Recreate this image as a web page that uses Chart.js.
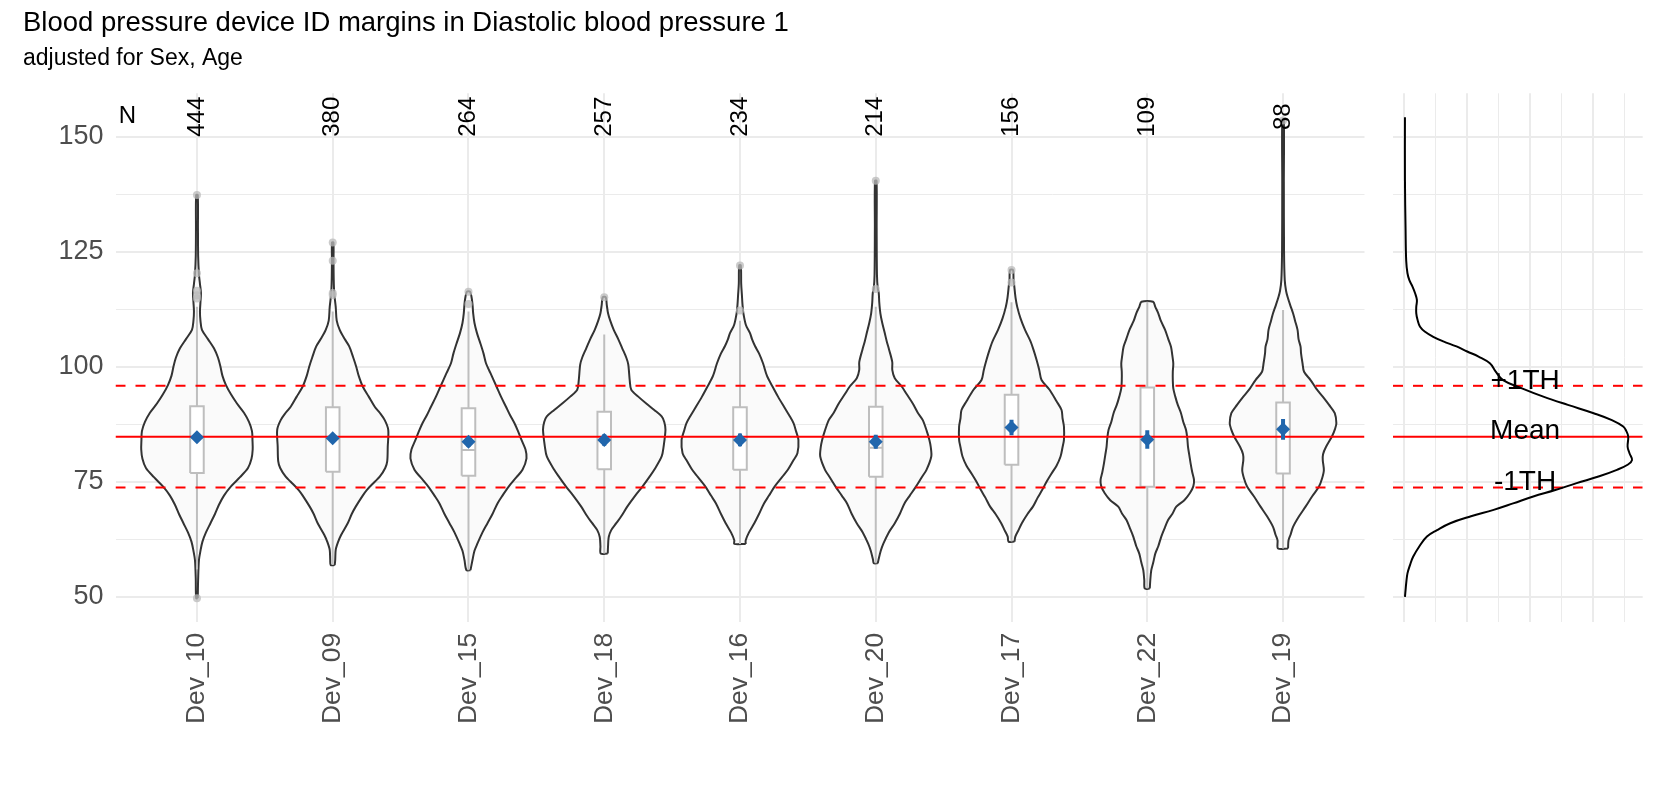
<!DOCTYPE html>
<html><head><meta charset="utf-8">
<script src="https://cdn.jsdelivr.net/npm/chart.js@4.4.1/dist/chart.umd.min.js"></script>
<style>
html,body{margin:0;padding:0;background:#fff;}
#wrap{position:relative;width:1666px;height:785px;overflow:hidden;background:#fff;}
#main{position:absolute;left:0;top:0;width:1666px;height:785px;}
#dens{position:absolute;left:1380px;top:0;width:286px;height:785px;}
</style></head><body>
<div id="wrap"><canvas id="main" width="1666" height="785"></canvas><canvas id="dens" width="286" height="785"></canvas></div>
<script>
// ---------------- DATA ----------------
const devices = ['Dev_10','Dev_09','Dev_15','Dev_18','Dev_16','Dev_20','Dev_17','Dev_22','Dev_19'];
const nCounts = [444,380,264,257,234,214,156,109,88];
const meanVals = [84.65,84.45,83.7,84.1,84.1,83.7,86.8,84.2,86.4];
const ciLow  = [83.75,83.55,82.6,82.85,82.7,82.2,85.1,82.2,84.15];
const ciHigh = [85.55,85.35,84.8,85.35,85.5,85.2,88.5,86.2,88.65];
const q1      = [76.9,77.2,76.3,77.7,77.6,76.1,78.7,73.9,76.8];
const medians = [84.5,84.4,81.9,84.0,84.0,82.4,86.9,84.0,86.5];
const q3      = [91.4,91.2,91.0,90.2,91.2,91.3,93.9,95.5,92.2];
const whiskLow  = [56.0,56.9,55.8,59.4,61.5,57.3,62.0,51.8,60.5];
const whiskHigh = [113.0,112.0,112.0,107.0,110.0,113.0,114.0,114.1,112.3];
const outliers = [[137.3,120.3,116.5,115.5,114.8,49.7],[127.0,123.0,116.0,115.6],[116.3,113.6],[115.1],[122.0,112.2],[140.4,116.9],[121.0,118.3],[],[153.5]];

// violin profiles: [value, relative density]
const vDev10 = [[49.7,0.8],[54,1.2],[58,2],[60,3.5],[62,5.5],[64,9],[66,13.5],[68,18],[70,22],[72,27],[74,34],[76,43],[78,51],[80,54.5],[82,55.7],[84,55.5],[86,55],[88,52],[90,47],[92,40],[94,34],[96,29],[98,25.5],[100,23.5],[102,21],[104,17],[106,11],[108,5],[110,3.5],[112,3],[114,3.5],[116,4],[118,3],[120,2],[124,1.2],[130,1],[137.3,0.8]];
const vDev09 = [[56.9,2],[58,2.5],[60.2,3],[62,5.5],[63.5,8.5],[66,15],[68,19],[69.6,23],[72,30],[73.2,34],[75,42],[76.1,47],[78,52.5],[79.5,54.5],[82.6,55],[86.3,55.5],[88.4,52],[90,47],[91.3,42],[93.5,36],[95.7,30],[98,26],[100,23.5],[102,20.5],[104.4,16.5],[106,12],[108,7],[110,4],[113,3],[116,1.5],[119,1],[123,0.8],[127,0.7]];
const vDev15 = [[55.8,2],[58,4],[60,6],[61.6,9],[64,14],[66,19],[68,24],[70.3,29],[72,34],[73.9,40],[76,48],[77.6,54],[80.1,58],[82,57],[84.1,53],[86,49.5],[87.7,46],[89.5,41.5],[91.3,37.5],[93.5,32.5],[95.7,28],[98.6,22],[100.75,17.5],[102.9,15],[105,12],[107.3,8.5],[109.5,6],[111.6,4.7],[113.6,4],[115.2,3],[116.3,1.5]];
const vDev18 = [[59.4,3.5],[61,3.8],[63,4.5],[64.5,7],[66,12],[67.5,17],[69.6,23],[72,31],[73.9,38],[76,45],[77.6,50],[80.5,57.4],[82.6,59.3],[86.3,61.2],[88,60],[89.2,57.4],[90.6,50],[92,42],[93.5,34],[95,27],[97,25.5],[100.5,24],[102,22],[104,18],[106,14],[108,9.5],[110,6],[111.6,3.8],[113.5,2.5],[115.1,1.5]];
const vDev16 = [[61.5,5.7],[62.3,5.7],[64,9],[66,14.3],[68,19],[70.3,24],[72,29],[73.9,34.4],[76,42],[77.6,47.8],[79.5,53],[81.2,57.4],[84.1,58.4],[86,56],[87.7,53.6],[89.5,49],[91.3,44],[93.5,38],[95.7,32.5],[98,27],[100.75,23],[102.9,19],[104.5,15],[106,12],[107.3,10],[109,6],[111.6,3.4],[113.5,2.5],[115.6,1.9],[118,1.2],[122,0.8]];
const vDev20 = [[57.3,2],[58,2.7],[60,5],[61.6,7.7],[64,13],[66,19],[68,24],[70.3,28.7],[72,34],[73.9,40],[76,46],[77.6,50.7],[80.5,55.5],[82.5,55],[84.1,53.6],[86,51],[88.4,47],[90,42],[92,37],[94,31],[95.7,26],[97.5,19],[99.3,16.5],[101,16.5],[103.65,13.4],[105.5,11],[107.3,9],[109.5,6.5],[111.6,4.6],[114,3.5],[116,3],[117,2],[120,1.2],[130,0.9],[140.4,0.8]];
const vDev17 = [[62,3],[63.1,3.8],[64.5,7],[66,10.3],[68,16],[69.6,21.4],[71.5,26],[73.2,30.6],[75,35],[76.8,40],[78.5,45],[80.5,49],[82.5,51],[84.1,52.4],[87,52.4],[88.8,51],[90.6,50],[92.5,45],[95,38],[97.1,30],[99.3,27.7],[101.5,25],[103.65,22],[105.5,19],[108,13.5],[110.5,9],[113,5.7],[115,4],[117.6,2.7],[119,2],[121,1.5]];
const vDev22 = [[51.8,2.5],[53.6,3],[55.8,4],[57.5,6],[59.4,8],[61,11],[63.1,14],[65,17.5],[66.7,20.8],[68,25],[69.6,29],[71,37],[72.5,42.5],[74,46],[75.4,46.7],[77,45],[79,43.3],[80.8,42],[82.6,40.7],[84.4,40],[86.2,38.8],[88,36],[89.9,33.7],[91.7,30.5],[93.5,28],[95.3,26],[97.1,25.5],[98.9,25.5],[100.7,26],[102.5,25],[104.35,23.7],[106,21],[108,17.8],[110,13.5],[111.6,11],[113,8],[114.1,5.8]];
const vDev19 = [[60.5,5],[62.3,5.5],[63.5,7.5],[65.2,10],[67.5,16],[69.6,22.5],[71.8,29],[73.9,35.8],[75.7,39],[77.5,40.8],[79.7,39.7],[81,40],[82.6,43],[84.9,49],[86.5,52],[87.7,53.3],[89.9,51.7],[91.7,46],[93.5,39.7],[95.3,33],[97.1,27.5],[98.9,21],[100.7,19.5],[102.9,18],[104.35,17.5],[106,15.5],[108,14.5],[110,12],[111.6,10],[113.5,7],[115.2,4.5],[116.5,3],[118.8,1.7],[125,1],[140,0.8],[153.5,0.8]];
const violins = [vDev10,vDev09,vDev15,vDev18,vDev16,vDev20,vDev17,vDev22,vDev19];

// reference lines
const refMean = 84.8;
const refUpper = 95.85;
const refLower = 73.75;
const refLabels = ['+1TH','Mean','-1TH'];

// overall density (side panel)
const densBP = [50,51.5,53,55.1,56.9,58.7,61,63.1,64.5,66,67.5,68.9,70.3,71.8,73.2,74.7,76.2,77.6,78.7,79.7,81.2,82.6,84.8,86,87,88.4,89.9,91.7,93.5,95.3,97.1,99,100.75,102.2,103.3,104.4,105.5,106.5,107.6,108.7,110.2,111.6,113,114.5,116,117.4,118.8,120.3,123,129.7,140.6,154.2];
const densVal = [0.0001,0.0002,0.0003,0.0005,0.0009,0.0014,0.0024,0.0036,0.0052,0.0073,0.0106,0.0142,0.0173,0.0205,0.024,0.0274,0.031,0.0338,0.0355,0.0362,0.0358,0.0355,0.0356,0.0353,0.0348,0.033,0.0301,0.026,0.0221,0.0187,0.0157,0.0145,0.0136,0.0118,0.0100,0.0083,0.0062,0.0046,0.0033,0.0025,0.0021,0.0019,0.0019,0.002,0.0017,0.0013,0.0008,0.0005,0.0003,0.0002,0.0001,0.0001];

const yTicks = [50,62.5,75,87.5,100,112.5,125,137.5,150];
const densTicks = [0,0.005,0.01,0.015,0.02,0.025,0.03,0.035];

// ---------------- STYLE ----------------
const FONT = "'Liberation Sans', Arial, Helvetica, sans-serif";
Chart.defaults.font.family = FONT;
const Y_MIN = 44.6, Y_MAX = 159.4;
const X_MIN = -0.6, X_MAX = 8.6;
const VIOLIN_MAX_HALF = 0.451;
const BOX_HALF = 0.05;
const N_LABEL_Y = 154.3, N_TITLE_X = -0.512;
const BLUE = '#2166ac', BOXGREY = '#bebebe', GRID = '#ebebeb';

const maxD = Math.max(...violins.flat().map(p => p[1]));
function seg(points, color, width, order, extra) {
  return Object.assign({data: points, showLine: true, borderColor: color, borderWidth: width,
    pointRadius: 0, pointHoverRadius: 0, fill: false, tension: 0, order: order}, extra || {});
}

const ds = [];
violins.forEach((prof, i) => {
  const right = prof.map(([y, d]) => ({x: i + d / maxD * VIOLIN_MAX_HALF, y}));
  const left = prof.slice().reverse().map(([y, d]) => ({x: i - d / maxD * VIOLIN_MAX_HALF, y}));
  const pts = right.concat(left); pts.push(pts[0]);
  ds.push(seg(pts, '#333333', 2, 50, {fill: 'shape', backgroundColor: '#fafafa', tension: 0.3}));
});
devices.forEach((d, i) => {
  ds.push(seg([{x: i, y: whiskLow[i]}, {x: i, y: q1[i]}], BOXGREY, 2, 45));
  ds.push(seg([{x: i, y: q3[i]}, {x: i, y: whiskHigh[i]}], BOXGREY, 2, 45));
  ds.push(seg([{x: i - BOX_HALF, y: q1[i]}, {x: i + BOX_HALF, y: q1[i]}, {x: i + BOX_HALF, y: q3[i]}, {x: i - BOX_HALF, y: q3[i]}, {x: i - BOX_HALF, y: q1[i]}],
    BOXGREY, 2, 40, {fill: 'shape', backgroundColor: '#ffffff'}));
  ds.push(seg([{x: i - BOX_HALF, y: medians[i]}, {x: i + BOX_HALF, y: medians[i]}], BOXGREY, 2, 39));
  ds.push(seg([{x: i, y: ciLow[i]}, {x: i, y: ciHigh[i]}], BLUE, 4, 12));
});
ds.push(seg([{x: X_MIN, y: refMean}, {x: X_MAX, y: refMean}], '#ff0000', 2, 30));
ds.push(seg([{x: X_MIN, y: refUpper}, {x: X_MAX, y: refUpper}], '#ff0000', 2, 30, {borderDash: [10, 10]}));
ds.push(seg([{x: X_MIN, y: refLower}, {x: X_MAX, y: refLower}], '#ff0000', 2, 30, {borderDash: [10, 10]}));
const outPts = [];
outliers.forEach((arr, i) => arr.forEach(v => outPts.push({x: i, y: v})));
ds.push({data: outPts, showLine: false, pointRadius: 4, pointBorderWidth: 0, pointBackgroundColor: 'rgba(185,185,185,0.75)', pointHoverRadius: 4, order: 20});
ds.push({data: meanVals.map((m, i) => ({x: i, y: m})), showLine: false, pointStyle: 'rectRot', pointRadius: 7, pointBorderWidth: 0, pointBackgroundColor: BLUE, pointHoverRadius: 7, order: 10});

const nLabelPlugin = {
  id: 'nlabels',
  afterDatasetsDraw(chart) {
    const {ctx} = chart; const x = chart.scales.x, y = chart.scales.y;
    ctx.save();
    ctx.font = '24px ' + FONT; ctx.fillStyle = '#000'; ctx.textAlign = 'center'; ctx.textBaseline = 'middle';
    const py = y.getPixelForValue(N_LABEL_Y);
    ctx.fillText('N', x.getPixelForValue(N_TITLE_X), py);
    nCounts.forEach((n, i) => {
      ctx.save(); ctx.translate(x.getPixelForValue(i), py); ctx.rotate(-Math.PI / 2);
      ctx.fillText(String(n), 0, 0); ctx.restore();
    });
    ctx.restore();
  }
};

const yScaleCommon = {
  type: 'linear', min: Y_MIN, max: Y_MAX,
  afterBuildTicks: s => { s.ticks = yTicks.map(v => ({value: v})); },
  grid: {color: GRID, lineWidth: c => (c.tick && c.tick.value % 25 === 0) ? 2 : 1, drawTicks: false},
  border: {display: false}
};

new Chart(document.getElementById('main'), {
  type: 'scatter',
  data: {datasets: ds},
  options: {
    responsive: false, animation: false, devicePixelRatio: 1,
    layout: {padding: {left: 23, right: 301.5, top: 0, bottom: 0}},
    plugins: {
      legend: {display: false}, tooltip: {enabled: false},
      title: {display: true, text: 'Blood pressure device ID margins in Diastolic blood pressure 1', align: 'start', color: '#000',
        font: {size: 27.5, weight: 'normal', family: FONT, lineHeight: 1.2}, padding: {top: 6.5, bottom: 1}},
      subtitle: {display: true, text: 'adjusted for Sex, Age', align: 'start', color: '#000',
        font: {size: 23, weight: 'normal', family: FONT, lineHeight: 1.2}, padding: {top: 4.5, bottom: 20.7}}
    },
    scales: {
      x: {
        type: 'linear', min: X_MIN, max: X_MAX,
        afterBuildTicks: s => { s.ticks = devices.map((d, i) => ({value: i})); },
        afterFit: s => { s.height = 163.3; },
        ticks: {autoSkip: false, maxRotation: 90, minRotation: 90, padding: 11, color: '#4d4d4d', font: {size: 26.5},
          callback: v => devices[Math.round(v)] || ''},
        grid: {color: GRID, lineWidth: 2, drawTicks: false},
        border: {display: false}
      },
      y: Object.assign({}, yScaleCommon, {
        afterFit: s => { s.width = 92.5; },
        ticks: {padding: 12, color: '#4d4d4d', font: {size: 27}, callback: v => (v % 25 === 0 ? String(v) : '')}
      })
    }
  },
  plugins: [nLabelPlugin]
});

// ---------------- density panel ----------------
const D_MIN = -0.0018, D_MAX = 0.0379, LABEL_X = 0.0192;
const refLabelPlugin = {
  id: 'reflabels',
  afterDatasetsDraw(chart) {
    const {ctx} = chart; const x = chart.scales.x, y = chart.scales.y;
    ctx.save();
    ctx.font = '28px ' + FONT; ctx.fillStyle = '#000'; ctx.textAlign = 'center'; ctx.textBaseline = 'middle';
    [refUpper, refMean, refLower].forEach((v, k) => {
      ctx.fillText(refLabels[k], x.getPixelForValue(LABEL_X), y.getPixelForValue(v) - 5);
    });
    ctx.restore();
  }
};
new Chart(document.getElementById('dens'), {
  type: 'scatter',
  data: {datasets: [
    seg(densBP.map((b, i) => ({x: densVal[i], y: b})), '#000000', 2, 5, {tension: 0.4}),
    seg([{x: D_MIN, y: refMean}, {x: D_MAX, y: refMean}], '#ff0000', 2, 30),
    seg([{x: D_MIN, y: refUpper}, {x: D_MAX, y: refUpper}], '#ff0000', 2, 30, {borderDash: [10, 10]}),
    seg([{x: D_MIN, y: refLower}, {x: D_MAX, y: refLower}], '#ff0000', 2, 30, {borderDash: [10, 10]})
  ]},
  options: {
    responsive: false, animation: false, devicePixelRatio: 1,
    layout: {padding: {left: 0, right: 23.3, top: 93.3, bottom: 0}},
    plugins: {legend: {display: false}, tooltip: {enabled: false}},
    scales: {
      x: {
        type: 'linear', min: D_MIN, max: D_MAX,
        afterBuildTicks: s => { s.ticks = densTicks.map(v => ({value: v})); },
        afterFit: s => { s.height = 163.3; },
        ticks: {display: false},
        grid: {color: GRID, lineWidth: c => (c.tick && Math.round(c.tick.value * 1000) % 10 === 0) ? 2 : 1, drawTicks: false},
        border: {display: false}
      },
      y: Object.assign({}, yScaleCommon, {
        afterFit: s => { s.width = 13; },
        ticks: {display: false}
      })
    }
  },
  plugins: [refLabelPlugin]
});
</script>
</body></html>
